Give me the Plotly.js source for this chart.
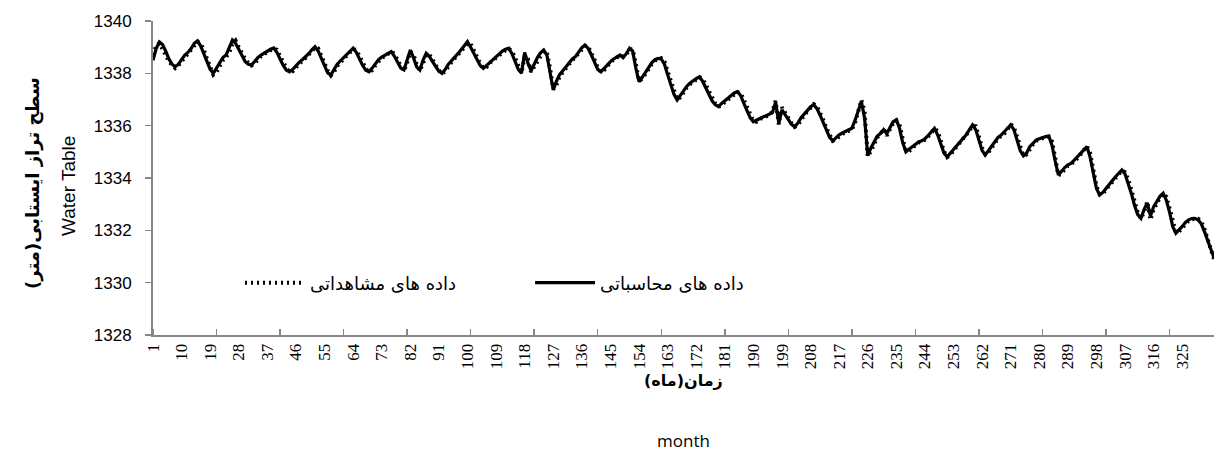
<!DOCTYPE html>
<html>
<head>
<meta charset="utf-8">
<script src="https://cdn.plot.ly/plotly-3.0.1.min.js"></script>
<style>html,body{margin:0;padding:0;background:#fff;}#chart{width:1214px;height:458px;}</style>
</head>
<body>
<div id="chart"></div>
<script>
// Calculated water table (solid line), months 1..335
const calculated = [
1338.50,1338.95,1339.20,1339.10,1338.85,1338.55,1338.35,1338.25,1338.35,1338.55,
1338.70,1338.80,1338.95,1339.15,1339.24,1339.05,1338.75,1338.40,1338.15,1338.00,
1338.20,1338.45,1338.60,1338.70,1338.95,1339.27,1339.15,1338.90,1338.65,1338.45,
1338.35,1338.32,1338.45,1338.60,1338.70,1338.78,1338.85,1338.92,1338.97,1338.80,
1338.55,1338.30,1338.12,1338.06,1338.15,1338.30,1338.42,1338.52,1338.62,1338.75,
1338.90,1339.02,1338.85,1338.55,1338.25,1338.02,1337.94,1338.15,1338.35,1338.48,
1338.60,1338.72,1338.85,1338.96,1338.80,1338.55,1338.30,1338.12,1338.06,1338.20,
1338.38,1338.52,1338.62,1338.70,1338.78,1338.83,1338.65,1338.40,1338.20,1338.13,
1338.55,1338.89,1338.60,1338.25,1338.13,1338.50,1338.77,1338.65,1338.45,1338.25,
1338.08,1338.00,1338.15,1338.35,1338.50,1338.62,1338.75,1338.90,1339.05,1339.21,
1339.00,1338.75,1338.50,1338.30,1338.19,1338.30,1338.45,1338.55,1338.65,1338.75,
1338.85,1338.92,1338.96,1338.75,1338.45,1338.15,1338.00,1338.80,1338.40,1338.10,
1338.35,1338.60,1338.78,1338.89,1338.70,1338.00,1337.36,1337.70,1337.95,1338.10,
1338.25,1338.40,1338.55,1338.64,1338.80,1338.98,1339.08,1338.95,1338.70,1338.40,
1338.15,1338.06,1338.20,1338.35,1338.45,1338.55,1338.62,1338.70,1338.60,1338.75,
1338.96,1338.85,1338.20,1337.68,1337.85,1338.05,1338.25,1338.40,1338.52,1338.57,
1338.55,1338.35,1337.95,1337.55,1337.20,1336.98,1337.15,1337.35,1337.50,1337.62,
1337.72,1337.80,1337.87,1337.70,1337.45,1337.20,1336.95,1336.80,1336.73,1336.85,
1336.95,1337.05,1337.15,1337.25,1337.30,1337.15,1336.85,1336.55,1336.30,1336.15,
1336.22,1336.28,1336.33,1336.38,1336.43,1336.50,1336.90,1336.10,1336.60,1336.40,
1336.20,1336.05,1335.96,1336.10,1336.30,1336.45,1336.60,1336.72,1336.80,1336.65,
1336.40,1336.10,1335.80,1335.55,1335.42,1335.55,1335.65,1335.72,1335.78,1335.83,
1335.90,1336.20,1336.55,1336.92,1336.30,1334.85,1335.15,1335.40,1335.60,1335.70,
1335.85,1335.70,1335.95,1336.15,1336.22,1335.90,1335.35,1335.00,1335.10,1335.20,
1335.30,1335.38,1335.42,1335.50,1335.62,1335.78,1335.90,1335.65,1335.25,1334.95,
1334.81,1334.95,1335.10,1335.25,1335.38,1335.50,1335.65,1335.85,1336.03,1335.85,
1335.45,1335.05,1334.88,1335.05,1335.22,1335.40,1335.55,1335.64,1335.75,1335.90,
1336.03,1335.85,1335.45,1335.05,1334.85,1334.95,1335.20,1335.33,1335.45,1335.50,
1335.55,1335.58,1335.60,1335.25,1334.65,1334.12,1334.25,1334.40,1334.50,1334.56,
1334.68,1334.80,1334.95,1335.08,1335.20,1334.80,1334.15,1333.60,1333.35,1333.45,
1333.60,1333.73,1333.90,1334.05,1334.20,1334.31,1334.15,1333.80,1333.40,1332.95,
1332.60,1332.46,1332.80,1333.05,1332.55,1332.90,1333.10,1333.30,1333.42,1333.15,
1332.70,1332.15,1331.89,1332.00,1332.15,1332.30,1332.40,1332.45,1332.46,1332.40,
1332.25,1331.95,1331.60,1331.25,1330.95
];
// Observed water table (dotted line), months 1..335
const observed = [
1338.70,1339.05,1339.15,1338.95,1338.70,1338.45,1338.30,1338.20,1338.30,1338.45,
1338.62,1338.75,1338.90,1339.05,1339.20,1339.15,1338.90,1338.55,1338.20,1337.95,
1338.05,1338.30,1338.50,1338.62,1338.80,1339.10,1339.25,1339.00,1338.75,1338.55,
1338.40,1338.30,1338.38,1338.52,1338.65,1338.74,1338.82,1338.88,1338.95,1338.90,
1338.65,1338.40,1338.20,1338.05,1338.08,1338.22,1338.36,1338.48,1338.58,1338.70,
1338.82,1338.98,1338.95,1338.70,1338.38,1338.10,1337.92,1338.05,1338.28,1338.42,
1338.55,1338.66,1338.78,1338.92,1338.90,1338.65,1338.40,1338.18,1338.05,1338.12,
1338.30,1338.46,1338.58,1338.66,1338.74,1338.82,1338.75,1338.50,1338.28,1338.10,
1338.40,1338.82,1338.72,1338.35,1338.10,1338.38,1338.70,1338.72,1338.55,1338.32,
1338.12,1337.98,1338.08,1338.28,1338.44,1338.57,1338.70,1338.85,1338.98,1339.15,
1339.12,1338.88,1338.60,1338.38,1338.20,1338.24,1338.40,1338.50,1338.60,1338.70,
1338.80,1338.88,1338.94,1338.85,1338.58,1338.25,1338.02,1338.65,1338.55,1338.05,
1338.25,1338.52,1338.72,1338.85,1338.80,1338.20,1337.40,1337.55,1337.88,1338.05,
1338.20,1338.34,1338.50,1338.62,1338.75,1338.92,1339.05,1339.02,1338.80,1338.52,
1338.22,1338.05,1338.12,1338.30,1338.42,1338.52,1338.60,1338.68,1338.65,1338.70,
1338.92,1338.92,1338.35,1337.72,1337.78,1337.98,1338.18,1338.35,1338.48,1338.56,
1338.58,1338.45,1338.08,1337.68,1337.30,1337.00,1337.08,1337.28,1337.45,1337.58,
1337.68,1337.77,1337.85,1337.80,1337.55,1337.30,1337.05,1336.85,1336.72,1336.78,
1336.90,1337.00,1337.10,1337.20,1337.28,1337.25,1336.98,1336.65,1336.38,1336.18,
1336.15,1336.25,1336.30,1336.35,1336.40,1336.55,1336.95,1336.05,1336.70,1336.50,
1336.28,1336.10,1335.95,1336.02,1336.22,1336.40,1336.55,1336.68,1336.82,1336.75,
1336.52,1336.22,1335.90,1335.62,1335.42,1335.48,1335.60,1335.68,1335.75,1335.80,
1335.85,1336.10,1336.48,1336.98,1336.55,1334.82,1335.02,1335.32,1335.55,1335.68,
1335.88,1335.62,1335.88,1336.10,1336.20,1336.05,1335.50,1335.05,1335.02,1335.15,
1335.25,1335.35,1335.40,1335.46,1335.58,1335.72,1335.88,1335.80,1335.38,1335.02,
1334.80,1334.88,1335.05,1335.20,1335.34,1335.46,1335.60,1335.80,1336.00,1335.98,
1335.58,1335.15,1334.90,1334.98,1335.15,1335.35,1335.50,1335.62,1335.70,1335.85,
1336.05,1335.95,1335.58,1335.15,1334.85,1334.90,1335.12,1335.28,1335.42,1335.48,
1335.52,1335.56,1335.58,1335.40,1334.80,1334.10,1334.18,1334.35,1334.46,1334.52,
1334.62,1334.75,1334.90,1335.04,1335.22,1334.95,1334.30,1333.70,1333.38,1333.40,
1333.55,1333.68,1333.85,1334.00,1334.15,1334.28,1334.22,1333.95,1333.55,1333.10,
1332.68,1332.45,1332.70,1333.10,1332.40,1332.80,1333.05,1333.25,1333.40,1333.28,
1332.85,1332.30,1331.92,1331.95,1332.10,1332.25,1332.36,1332.42,1332.45,1332.44,
1332.35,1332.05,1331.70,1331.30,1330.90
];
const months = calculated.map((_, i) => i + 1);
const xTickVals = [1,10,19,28,37,46,55,64,73,82,91,100,109,118,127,136,145,154,163,172,181,190,199,208,217,226,235,244,253,262,271,280,289,298,307,316,325];
const yTickVals = [1328,1330,1332,1334,1336,1338,1340];
const nameCalc = 'داده های محاسباتی';
const nameObs = 'داده های مشاهداتی';

const traces = [
  {x: months, y: calculated, type: 'scatter', mode: 'lines', name: nameCalc,
   line: {color: '#000', width: 3.2}},
  {x: months, y: observed, type: 'scatter', mode: 'lines', name: nameObs,
   line: {color: '#000', width: 4, dash: '2px,4px'}}
];

const L = 153, R = 1214, T = 21, B = 335;
const pw = R - L, ph = B - T;
const px = v => (v - L) / pw;
const py = v => (B - v) / ph;

const layout = {
  width: 1214, height: 458,
  margin: {l: L, r: 1214 - R, t: T, b: 458 - B, pad: 0},
  paper_bgcolor: '#fff', plot_bgcolor: '#fff',
  showlegend: true,
  legend: {orientation: 'h', traceorder: 'reversed', x: px(240), y: py(283),
    xanchor: 'left', yanchor: 'middle', bgcolor: 'rgba(0,0,0,0)',
    font: {family: 'DejaVu Sans', size: 18, color: '#000'},
    entrywidth: 215, entrywidthmode: 'pixels', itemwidth: 60},
  xaxis: {type: 'linear', range: [1, 335], showgrid: false, zeroline: false,
    showline: true, linecolor: '#868686', linewidth: 2,
    tickmode: 'array', tickvals: xTickVals, ticktext: xTickVals.map(String),
    ticks: '', tickangle: -90, automargin: false,
    tickfont: {family: 'Liberation Serif', size: 17, color: '#000'},
    minor: {tickmode: 'linear', tick0: 1, dtick: 20, ticks: 'inside', ticklen: 6, tickwidth: 1.5, tickcolor: '#868686', showgrid: false}},
  yaxis: {range: [1328, 1340], showgrid: false, zeroline: false,
    showline: true, linecolor: '#868686', linewidth: 2,
    tickmode: 'array', tickvals: yTickVals, ticks: 'outside', ticklen: 6, tickwidth: 1.5, tickcolor: '#868686',
    ticklabelstandoff: 10,
    tickfont: {family: 'Liberation Sans', size: 17, color: '#000'}},
  annotations: [
    {xref: 'paper', yref: 'paper', x: px(33), y: py(183), xanchor: 'center', yanchor: 'middle',
     textangle: -90, showarrow: false, text: '<b>سطح تراز ایستابی(متر)</b>',
     font: {family: 'DejaVu Sans', size: 18, color: '#000'}},
    {xref: 'paper', yref: 'paper', x: px(68), y: py(186), xanchor: 'center', yanchor: 'middle',
     textangle: -90, showarrow: false, text: 'Water Table',
     font: {family: 'Liberation Sans', size: 19, color: '#000'}},
    {xref: 'paper', yref: 'paper', x: px(683), y: py(380), xanchor: 'center', yanchor: 'middle',
     showarrow: false, text: '<b>زمان(ماه)</b>',
     font: {family: 'DejaVu Sans', size: 16, color: '#000'}},
    {xref: 'paper', yref: 'paper', x: px(683), y: py(440), xanchor: 'center', yanchor: 'middle',
     showarrow: false, text: 'month',
     font: {family: 'Open Sans', size: 17, color: '#000'}}
  ]
};

Plotly.newPlot('chart', traces, layout, {displayModeBar: false, staticPlot: true});
</script>
</body>
</html>
